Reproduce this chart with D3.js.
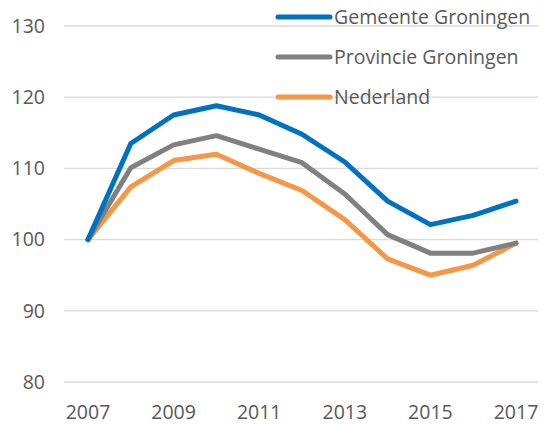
<!DOCTYPE html>
<html>
<head>
<meta charset="utf-8">
<script src="https://cdn.jsdelivr.net/npm/d3@7"></script>
<style>
  body { margin: 0; background: #fff; }
  svg text { font-family: "Open Sans", "Noto Sans", sans-serif; fill: #595959; }
</style>
</head>
<body>
<div id="chart"></div>
<script>
var years = [2007, 2008, 2009, 2010, 2011, 2012, 2013, 2014, 2015, 2016, 2017];
var gemeente = [100, 113.5, 117.5, 118.8, 117.5, 114.8, 110.9, 105.4, 102.1, 103.4, 105.4];
var provincie = [100, 110.1, 113.3, 114.6, 112.7, 110.8, 106.4, 100.7, 98.1, 98.1, 99.5];
var nederland = [100, 107.4, 111.1, 112.0, 109.3, 106.9, 102.8, 97.3, 95.0, 96.4, 99.5];
var seriesNames = ["Gemeente Groningen", "Provincie Groningen", "Nederland"];
var yTicks = [80, 90, 100, 110, 120, 130];
var xTickLabels = [2007, 2009, 2011, 2013, 2015, 2017];

var width = 547, height = 425;
var colors = ["#0070C0", "#808080", "#F79646"];
var series = [gemeente, provincie, nederland];

var svg = d3.select("#chart").append("svg")
  .attr("width", width)
  .attr("height", height);

var x = d3.scalePoint()
  .domain(years)
  .range([88, 516]);

var y = d3.scaleLinear()
  .domain([80, 130])
  .range([382, 26]);

// gridlines
svg.append("g")
  .selectAll("line")
  .data(yTicks)
  .enter()
  .append("line")
  .attr("x1", 64)
  .attr("x2", 538)
  .attr("y1", d => y(d))
  .attr("y2", d => y(d))
  .attr("stroke", "#d9d9d9")
  .attr("stroke-width", 1.3);

// y labels
svg.append("g")
  .selectAll("text")
  .data(yTicks)
  .enter()
  .append("text")
  .attr("x", 45)
  .attr("y", d => y(d))
  .attr("dy", "0.35em")
  .attr("text-anchor", "end")
  .style("font-size", "19.5px")
  .text(d => d);

// x labels
svg.append("g")
  .selectAll("text")
  .data(xTickLabels)
  .enter()
  .append("text")
  .attr("x", d => x(d))
  .attr("y", 412)
  .attr("dy", "0.35em")
  .attr("text-anchor", "middle")
  .style("font-size", "19.5px")
  .text(d => d);

var line = d3.line()
  .x((d, i) => x(years[i]))
  .y(d => y(d));

// draw series back to front
[2, 1, 0].forEach(function(k) {
  svg.append("path")
    .datum(series[k])
    .attr("d", line)
    .attr("fill", "none")
    .attr("stroke", colors[k])
    .attr("stroke-width", 5)
    .attr("stroke-linejoin", "round")
    .attr("stroke-linecap", "round");
});

// legend
var legend = svg.append("g")
  .selectAll("g")
  .data(seriesNames)
  .enter()
  .append("g")
  .attr("transform", (d, i) => "translate(0," + (17 + i * 40) + ")");

legend.append("line")
  .attr("x1", 278)
  .attr("x2", 330)
  .attr("stroke", (d, i) => colors[i])
  .attr("stroke-width", 5)
  .attr("stroke-linecap", "round");

legend.append("text")
  .attr("x", 334)
  .attr("dy", "0.35em")
  .style("font-size", "19.5px")
  .text(d => d);
</script>
</body>
</html>
